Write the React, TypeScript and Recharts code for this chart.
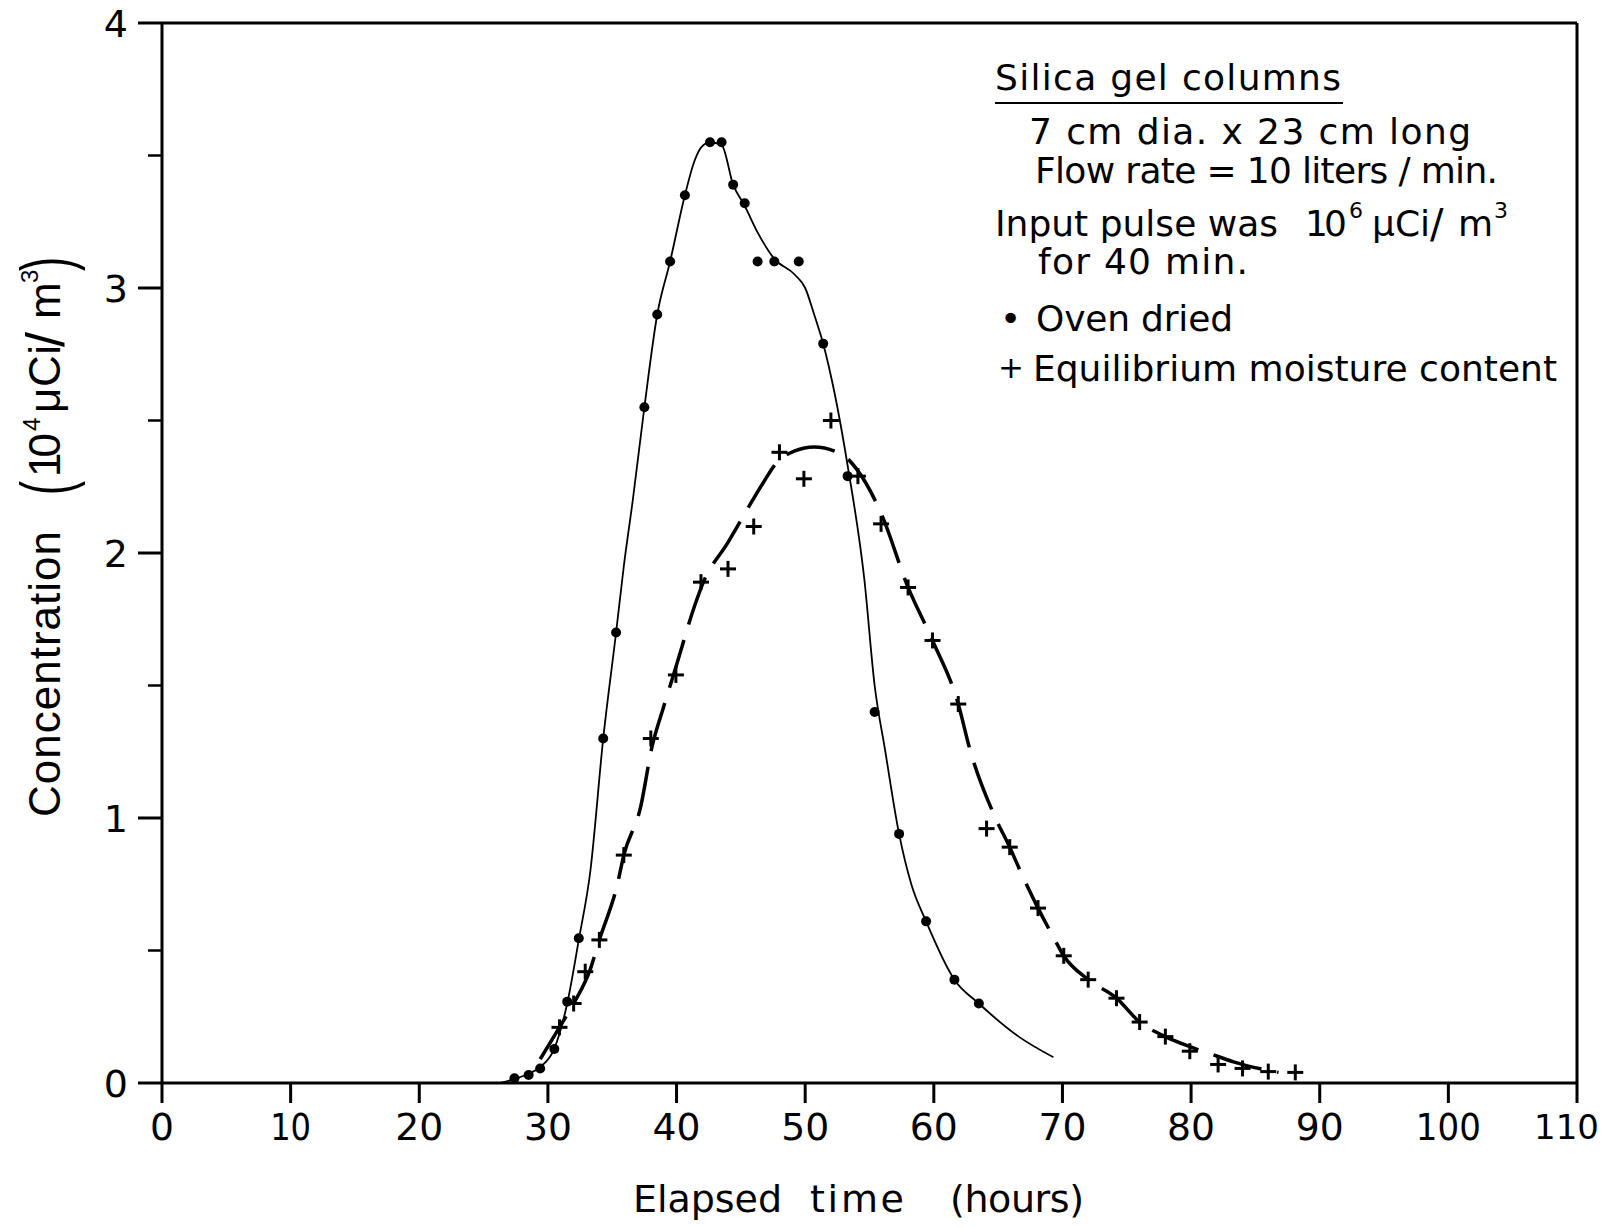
import {
  ComposedChart,
  Line,
  ReferenceLine,
  Scatter,
  XAxis,
  YAxis,
} from 'recharts';

const FONT = '"DejaVu Sans", sans-serif';
const TITLE_FONT = '"Liberation Sans", Arial, sans-serif';

// tick values
const xTicks = [0, 10, 20, 30, 40, 50, 60, 70, 80, 90, 100, 110];
const yTicks = [0, 0.5, 1, 1.5, 2, 2.5, 3, 3.5, 4];

// oven dried, measured points (hours, 10^4 uCi/m3)
const ovenHours = [
  27.4, 28.5, 29.4, 30.5, 31.5, 32.4, 34.3, 35.3, 37.5, 38.5, 39.5, 40.65,
  42.6, 43.5, 44.4, 45.3, 46.3, 47.6, 49.5, 51.4, 53.3, 55.4, 57.3, 59.4,
  61.6, 63.5,
];
const ovenConc = [
  0.018, 0.03, 0.055, 0.128, 0.307, 0.546, 1.3, 1.7, 2.55, 2.9, 3.1, 3.35,
  3.55, 3.55, 3.39, 3.32, 3.1, 3.1, 3.1, 2.79, 2.29, 1.4, 0.94, 0.61, 0.39,
  0.3,
];

// oven dried, hand drawn curve
const ovenCurveHours = [
  26.3, 27.4, 28.5, 29.4, 30.5, 31.5, 32.4, 33.3, 34.3, 35.3, 35.9, 36.6,
  37.5, 38.5, 39.5, 40.65, 41.4, 41.9, 42.6, 43.5, 44.4, 45.3, 46.3, 47.6,
  49.2, 50.0, 50.7, 51.4, 52.3, 53.3, 54.6, 55.4, 56.2, 57.3, 58.25, 59.4,
  61.6, 63.5, 66.6, 69.3,
];
const ovenCurveConc = [
  0.0, 0.015, 0.035, 0.06, 0.13, 0.3, 0.54, 0.8, 1.3, 1.7, 1.95, 2.2, 2.55,
  2.9, 3.1, 3.35, 3.48, 3.53, 3.55, 3.54, 3.39, 3.31, 3.21, 3.11, 3.05, 3.0,
  2.9, 2.79, 2.6, 2.33, 1.9, 1.5, 1.26, 0.94, 0.75, 0.61, 0.39, 0.3, 0.175,
  0.097,
];

// equilibrium moisture content, measured points
const eqHours = [
  30.9, 32.0, 32.9, 34.0, 35.9, 38.0, 39.95, 41.9, 44.0, 46.0, 48.0, 49.9,
  52.0, 54.1, 55.9, 58.0, 59.9, 61.9, 64.1, 65.9, 68.1, 70.1, 72.0, 74.2,
  76.0, 78.0, 79.9, 82.1, 84.0, 86.0, 88.1,
];
const eqConc = [
  0.21, 0.3, 0.42, 0.54, 0.86, 1.3, 1.54, 1.89, 1.94, 2.1, 2.38, 2.28, 2.5,
  2.29, 2.11, 1.87, 1.67, 1.43, 0.96, 0.89, 0.66, 0.48, 0.39, 0.32, 0.23,
  0.175, 0.12, 0.07, 0.055, 0.043, 0.04,
];

// equilibrium moisture content, hand drawn dashed curve
const eqCurveHours = [
  29.4, 30.9, 32.0, 33.3, 34.0, 35.4, 35.9, 37.2, 38.1, 39.0, 39.95, 41.4,
  42.0, 44.0, 46.8, 47.6, 49.2, 50.7, 52.9, 54.1, 55.9, 58.0, 59.9, 61.9,
  62.8, 64.7, 65.9, 67.0, 68.1, 69.3, 70.1, 72.0, 74.2, 76.0, 78.0, 79.9,
  82.1, 83.3, 86.8,
];
const eqCurveConc = [
  0.09, 0.21, 0.3, 0.43, 0.54, 0.75, 0.86, 1.04, 1.27, 1.42, 1.57, 1.8, 1.88,
  2.04, 2.27, 2.33, 2.385, 2.4, 2.37, 2.31, 2.15, 1.87, 1.67, 1.43, 1.26,
  1.01, 0.89, 0.77, 0.66, 0.55, 0.48, 0.39, 0.32, 0.23, 0.175, 0.137, 0.1,
  0.08, 0.04,
];

const zip = (hs: number[], cs: number[]) => hs.map((h, i) => ({ h, c: cs[i] }));

const ovenPoints = zip(ovenHours, ovenConc);
const ovenCurve = zip(ovenCurveHours, ovenCurveConc);
const eqPoints = zip(eqHours, eqConc);
const eqCurve = zip(eqCurveHours, eqCurveConc);

const Y_TICK_SIZE = 24;
const Y_TICK_MARGIN = 10;

// the lettering uses a thin "1", so narrow labels that contain it
function labelWidth(s: string) {
  const ones = s.split('').filter((ch) => ch === '1').length;
  return s.length * 24 - ones * 7;
}

function XTick(props: any) {
  const { x, y, payload } = props;
  const s = String(payload.value);
  const last = payload.value === xTicks[xTicks.length - 1];
  if (last) {
    // right at the page edge: plain smaller label, anchored at its end
    return (
      <text x={x + 22} y={y} dy={36} textAnchor="end" fontSize={34} fontFamily={FONT} fill="#000">
        {s}
      </text>
    );
  }
  return (
    <text
      x={x}
      y={y}
      dy={37}
      textAnchor="middle"
      fontSize={38}
      fontFamily={FONT}
      fill="#000"
      textLength={labelWidth(s)}
      lengthAdjust="spacingAndGlyphs"
    >
      {s}
    </text>
  );
}

function YTick(props: any) {
  const { x, y, payload } = props;
  const v = payload.value as number;
  const axisX = x + Y_TICK_MARGIN + Y_TICK_SIZE;
  const major = Number.isInteger(v);
  return (
    <g>
      <line
        x1={axisX - (major ? 24 : 14)}
        x2={axisX}
        y1={y}
        y2={y}
        stroke="#000"
        strokeWidth={major ? 3 : 2.5}
      />
      {major && (
        <text x={x} y={y} dy={14} textAnchor="end" fontSize={38} fontFamily={FONT} fill="#000">
          {v}
        </text>
      )}
    </g>
  );
}

function Dot(props: any) {
  return <circle cx={props.cx} cy={props.cy} r={5} fill="#000" />;
}

function Plus(props: any) {
  const { cx, cy } = props;
  return (
    <g stroke="#000" strokeWidth={3}>
      <line x1={cx - 8} x2={cx + 8} y1={cy} y2={cy} />
      <line x1={cx} x2={cx} y1={cy - 8} y2={cy + 8} />
    </g>
  );
}

// rotated title: x runs upward along the axis from y = 817
function YTitle() {
  const paren = { fontSize: 70, textLength: 14, lengthAdjust: 'spacingAndGlyphs' as const };
  return (
    <g transform="translate(60, 817) rotate(-90)" fontFamily={TITLE_FONT} fill="#000">
      <text x={0} y={0} fontSize={44} textLength={286} lengthAdjust="spacing">
        Concentration
      </text>
      <text x={322} y={10} {...paren}>
        (
      </text>
      <text x={340} y={0} fontSize={44} textLength={44} lengthAdjust="spacing">
        10
      </text>
      <text x={386} y={-20} fontSize={24}>
        4
      </text>
      <text x={404} y={0} fontSize={44} textLength={68} lengthAdjust="spacing">
        μCi
      </text>
      <text x={470} y={4} fontSize={54}>
        /
      </text>
      <text x={498} y={0} fontSize={44}>
        m
      </text>
      <text x={534} y={-22} fontSize={24}>
        3
      </text>
      <text x={546} y={10} {...paren}>
        )
      </text>
    </g>
  );
}

function XTitle() {
  const t = { y: 1212, fontSize: 38, fontFamily: FONT, fill: '#000', lengthAdjust: 'spacing' as const };
  return (
    <g>
      <text x={633} {...t} textLength={149}>
        Elapsed
      </text>
      <text x={810} {...t} textLength={94}>
        time
      </text>
      <text x={950} {...t} textLength={134}>
        (hours)
      </text>
    </g>
  );
}

function Notes() {
  const t = { fontSize: 36, fontFamily: FONT, fill: '#000', lengthAdjust: 'spacing' as const };
  const sup = { fontSize: 22, fontFamily: FONT, fill: '#000' };
  return (
    <svg
      width={1611}
      height={1228}
      style={{ position: 'absolute', left: 0, top: 0, pointerEvents: 'none' }}
    >
      <text x={995} y={90} {...t} textLength={346}>
        Silica gel columns
      </text>
      <line x1={995} x2={1343} y1={103} y2={103} stroke="#000" strokeWidth={2} />
      <text x={1029} y={144} {...t} textLength={442}>
        7 cm dia. x 23 cm long
      </text>
      <text x={1035} y={183} {...t} textLength={463}>
        Flow rate = 10 liters / min.
      </text>
      <text x={995} y={236} {...t} textLength={283}>
        Input pulse was
      </text>
      <text x={1305} y={236} {...t} textLength={42}>
        10
      </text>
      <text x={1349} y={218} {...sup}>
        6
      </text>
      <text x={1372} y={236} {...t}>
        μCi
      </text>
      <text x={1430} y={238} {...t} fontSize={40}>
        /
      </text>
      <text x={1458} y={236} {...t}>
        m
      </text>
      <text x={1494} y={218} {...sup}>
        3
      </text>
      <text x={1038} y={274} {...t} textLength={210}>
        for 40 min.
      </text>
      <text x={1000} y={331} {...t}>
        •
      </text>
      <text x={1036} y={331} {...t} textLength={197}>
        Oven dried
      </text>
      <text x={998} y={378} {...t} fontSize={31}>
        +
      </text>
      <text x={1033} y={381} {...t} textLength={524}>
        Equilibrium moisture content
      </text>
    </svg>
  );
}

export default function App() {
  return (
    <div style={{ position: 'absolute', left: 0, top: 0, width: 1611, height: 1228, background: '#fff' }}>
      <ComposedChart
        width={1611}
        height={1228}
        margin={{ top: 23, right: 34, bottom: 0, left: 0 }}
      >
        <XAxis
          type="number"
          dataKey="h"
          domain={[0, 110]}
          ticks={xTicks}
          interval={0}
          height={145}
          tickSize={20}
          tickMargin={0}
          axisLine={{ stroke: '#000', strokeWidth: 3 }}
          tickLine={{ stroke: '#000', strokeWidth: 3 }}
          tick={<XTick />}
          label={{ content: () => <XTitle /> }}
        />
        <YAxis
          type="number"
          dataKey="c"
          domain={[0, 4]}
          ticks={yTicks}
          interval={0}
          width={162}
          tickSize={Y_TICK_SIZE}
          tickMargin={Y_TICK_MARGIN}
          axisLine={{ stroke: '#000', strokeWidth: 3 }}
          tickLine={false}
          tick={<YTick />}
          label={{ content: () => <YTitle /> }}
        />
        <ReferenceLine y={4} stroke="#000" strokeWidth={3} />
        <ReferenceLine x={110} stroke="#000" strokeWidth={3} />
        <Line
          data={ovenCurve}
          dataKey="c"
          type="monotone"
          dot={false}
          stroke="#000"
          strokeWidth={1.8}
          isAnimationActive={false}
        />
        <Line
          data={eqCurve}
          dataKey="c"
          type="monotone"
          dot={false}
          stroke="#000"
          strokeWidth={3.5}
          strokeDasharray="50 16"
          isAnimationActive={false}
        />
        <Scatter data={ovenPoints} dataKey="c" shape={<Dot />} isAnimationActive={false} />
        <Scatter data={eqPoints} dataKey="c" shape={<Plus />} isAnimationActive={false} />
      </ComposedChart>
      <Notes />
    </div>
  );
}
